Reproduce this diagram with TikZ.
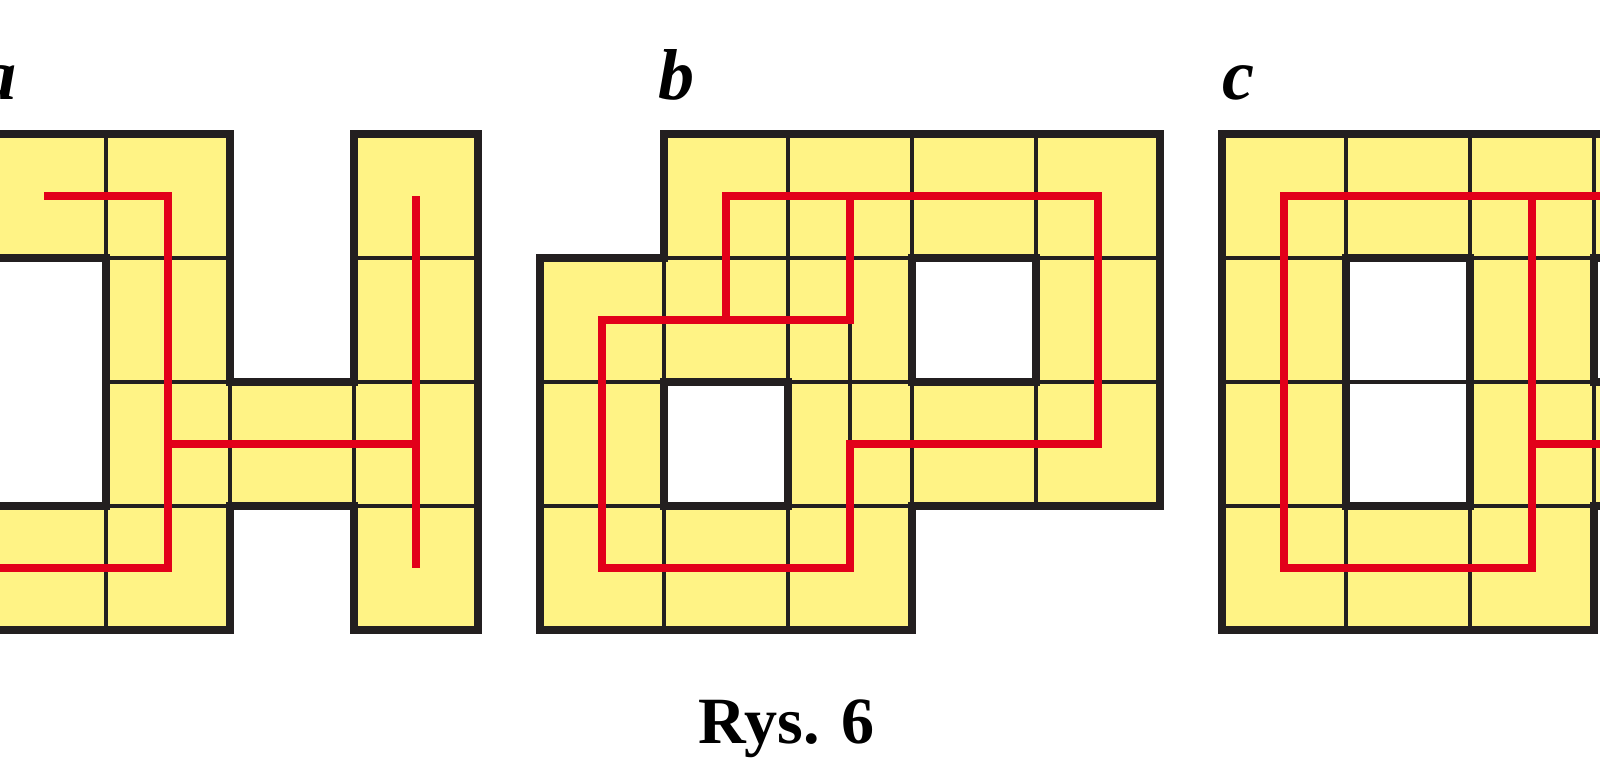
\documentclass[tikz,border=0pt]{standalone}
\usepackage{fontspec}
\setmainfont{Liberation Serif}
\usepackage{xcolor}
\usepackage{tikz}
\definecolor{celly}{RGB}{255,243,133}
\definecolor{ink}{RGB}{35,31,32}
\definecolor{redline}{RGB}{226,0,26}
\tikzstyle{cell} = [fill=celly, draw=ink, line width=1.25pt]
\tikzstyle{seam} = [draw=ink, line width=1.25pt]
\tikzstyle{rim} = [draw=ink, line width=2.05pt]
\tikzstyle{cut} = [draw=ink, line width=1pt]
\tikzstyle{route} = [draw=redline, line width=2.4pt]
\tikzstyle{tag} = [inner sep=0pt, anchor=base west, font=\fontsize{20.5}{24}\selectfont\bfseries\itshape]
\tikzstyle{figcap} = [inner sep=0pt, anchor=base, font=\fontsize{18.8}{22}\selectfont\bfseries]

\begin{document}
\begin{tikzpicture}[x=1.24cm, y=1.24cm]
        \useasboundingbox (0.145,-1.113) rectangle (13.048,5.081);
        \clip (0.145,-1.113) rectangle (13.048,5.081);
        % a
        \foreach \x/\y in {0/3,1/3,3/3,1/2,3/2,1/1,2/1,3/1,0/0,1/0,3/0}
            \path[cell] (\x,\y) rectangle +(1,1);
        \draw[rim] (0,4) -- (2,4) -- (2,2) -- (3,2) -- (3,4) -- (4,4) -- (4,0) -- (3,0) -- (3,1) -- (2,1) -- (2,0) -- (0,0) -- (0,1) -- (1,1) -- (1,3) -- (0,3) -- cycle;
        \draw[route] (0.5,3.5) -- (1.5,3.5) -- (1.5,0.5) -- (0,0.5);
        \draw[route] (1.5,1.5) -- (3.5,1.5);
        \draw[route] (3.5,3.5) -- (3.5,0.5);
        \node[tag] (labA) at (-0.02,4.28) {a};
        % b
        \foreach \x/\y in {5.5/3,6.5/3,7.5/3,8.5/3,4.5/2,5.5/2,6.5/2,8.5/2,4.5/1,6.5/1,7.5/1,8.5/1,4.5/0,5.5/0,6.5/0}
            \path[cell] (\x,\y) rectangle +(1,1);
        \draw[rim] (5.5,4) -- (9.5,4) -- (9.5,1) -- (7.5,1) -- (7.5,0) -- (4.5,0) -- (4.5,3) -- (5.5,3) -- cycle;
        \draw[rim] (7.5,2) rectangle (8.5,3);
        \draw[rim] (5.5,1) rectangle (6.5,2);
        \draw[cut] (7,2.5) -- (7,1.5);
        \draw[route] (7,3.5) -- (7,2.5) -- (5,2.5) -- (5,0.5) -- (7,0.5) -- (7,1.5) -- (9,1.5) -- (9,3.5) -- (6,3.5) -- (6,2.5);
        \node[tag] (labB) at (5.45,4.28) {b};
        % c
        \foreach \x/\y in {10/3,11/3,12/3,13/3,10/2,12/2,10/1,12/1,13/1,10/0,11/0,12/0}
            \path[cell] (\x,\y) rectangle +(1,1);
        \draw[seam] (11,2) -- (12,2);
        \draw[rim] (10,0) -- (10,4) -- (14,4) -- (14,3) -- (13,3) -- (13,2) -- (14,2) -- (14,1) -- (13,1) -- (13,0) -- cycle;
        \draw[rim] (11,1) rectangle (12,3);
        \draw[route] (14,3.5) -- (10.5,3.5) -- (10.5,0.5) -- (12.5,0.5) -- (12.5,3.5);
        \draw[route] (12.5,1.5) -- (14,1.5);
        \node[tag] (labC) at (10.0,4.28) {c};
        \node[figcap] (rys) at (6.49,-0.911) {Rys. 6};
\end{tikzpicture}
\end{document}
